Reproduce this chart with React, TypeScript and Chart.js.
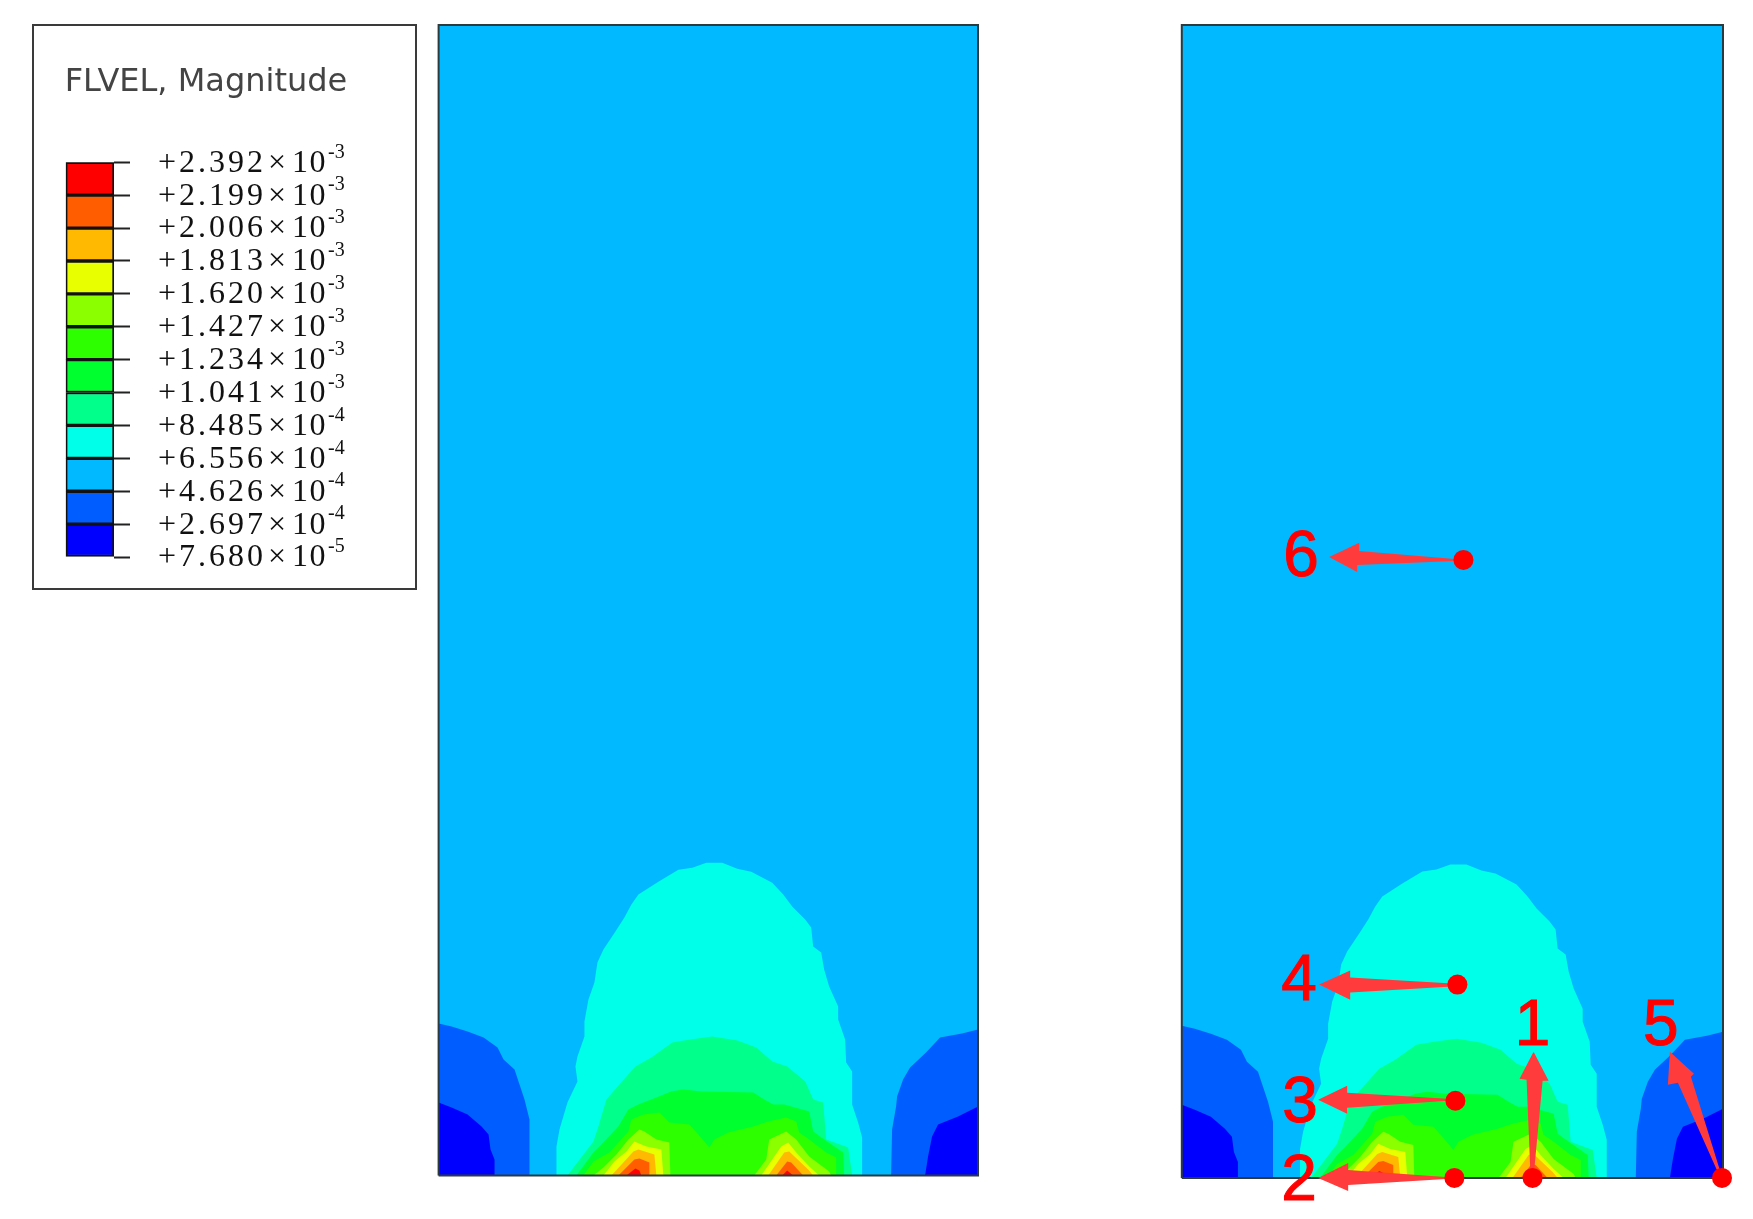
import React, { useEffect, useRef } from "react";
import { Chart, registerables } from "chart.js";

Chart.register(...registerables);

type Pair = [number, number];

// Legend
const legendTitle = "FLVEL, Magnitude";
const legendMantissas = ["+7.680", "+2.697", "+4.626", "+6.556", "+8.485", "+1.041", "+1.234", "+1.427", "+1.620", "+1.813", "+2.006", "+2.199", "+2.392"];
const legendExponents = ["-5", "-4", "-4", "-4", "-4", "-3", "-3", "-3", "-3", "-3", "-3", "-3", "-3"];
const bandColors = ["#0000FF", "#005DFF", "#00B9FF", "#00FFE8", "#00FF8B", "#00FF2E", "#2EFF00", "#8BFF00", "#E8FF00", "#FFB900", "#FF5D00", "#FF0000"];

// Contour outlines in panel units (x 0..540 across, y 0..1151 up from the base)
const domain: Pair[] = [[0, 0], [0, 1151], [540, 1151], [540, 0]];
const blueLeft: Pair[] = [[0, 152], [13, 149], [29, 144], [45, 138], [59, 128], [65, 116], [76, 106], [81, 91], [86, 76], [91, 56], [91, 0], [0, 0]];
const darkLeft: Pair[] = [[0, 73], [13, 68], [29, 61], [43, 49], [50, 41], [52, 26], [56, 16], [56, 0], [0, 0]];
const blueRight: Pair[] = [[540, 146], [524, 142], [502, 138], [488, 123], [472, 108], [465, 96], [459, 79], [458, 69], [454, 46], [453, 0], [540, 0]];
const darkRight: Pair[] = [[540, 69], [520, 59], [500, 51], [494, 39], [490, 19], [487, 0], [540, 0]];
const cyanDome: Pair[] = [[118, 0], [118, 29], [121, 46], [129, 73], [139, 94], [137, 109], [139, 119], [146, 139], [146, 154], [150, 176], [156, 193], [159, 213], [165, 226], [177, 244], [186, 258], [193, 271], [200, 281], [220, 294], [240, 306], [254, 308], [268, 313], [284, 313], [299, 307], [313, 304], [334, 293], [345, 281], [354, 269], [367, 256], [373, 248], [375, 229], [383, 223], [386, 206], [391, 189], [400, 169], [400, 156], [407, 136], [408, 113], [414, 104], [414, 71], [420, 53], [424, 38], [424, 0]];
const springDome: Pair[] = [[129, 0], [142, 17], [155, 34], [160, 49], [168, 76], [181, 91], [197, 109], [213, 118], [234, 133], [252, 136], [274, 139], [299, 135], [318, 128], [334, 114], [349, 109], [367, 94], [375, 76], [385, 73], [388, 36], [410, 28], [414, 0]];
const greenDome: Pair[] = [[138, 0], [155, 23], [163, 31], [180, 49], [190, 66], [200, 71], [218, 78], [233, 84], [245, 86], [263, 84], [315, 83], [326, 76], [335, 71], [346, 71], [371, 64], [375, 44], [386, 36], [405, 23], [406, 0]];
const limeDome: Pair[] = [[145, 0], [155, 14], [171, 23], [190, 44], [193, 56], [205, 61], [221, 63], [231, 53], [251, 51], [260, 41], [271, 28], [276, 36], [290, 43], [315, 49], [330, 54], [348, 58], [358, 54], [361, 43], [371, 36], [388, 23], [398, 18], [398, 0]];
const yellowGreenLeft: Pair[] = [[155, 0], [165, 8], [178, 21], [190, 36], [201, 46], [206, 44], [218, 36], [231, 33], [232, 0]];
const yellowGreenRight: Pair[] = [[316, 0], [328, 16], [331, 36], [348, 44], [358, 36], [371, 19], [391, 4], [393, 0]];
const yellowLeft: Pair[] = [[165, 0], [176, 14], [188, 24], [196, 34], [208, 29], [223, 26], [225, 0]];
const yellowRight: Pair[] = [[323, 0], [343, 29], [350, 33], [358, 23], [371, 9], [381, 0]];
const amberLeft: Pair[] = [[173, 0], [185, 13], [195, 24], [200, 26], [216, 21], [218, 0]];
const amberRight: Pair[] = [[330, 0], [346, 23], [351, 24], [370, 6], [375, 0]];
const orangeLeft: Pair[] = [[180, 0], [196, 16], [201, 17], [211, 13], [211, 0]];
const orangeRight: Pair[] = [[338, 0], [349, 14], [353, 13], [365, 0]];
const redLeft: Pair[] = [[188, 0], [197, 7], [201, 5], [203, 0]];
const redRight: Pair[] = [[344, 0], [349, 5], [355, 0]];

const contourLayers: { color: string; outline: Pair[] }[] = [
  { color: "#00B9FF", outline: domain },
  { color: "#005DFF", outline: blueLeft },
  { color: "#005DFF", outline: blueRight },
  { color: "#0000FF", outline: darkLeft },
  { color: "#0000FF", outline: darkRight },
  { color: "#00FFE8", outline: cyanDome },
  { color: "#00FF8B", outline: springDome },
  { color: "#00FF2E", outline: greenDome },
  { color: "#2EFF00", outline: limeDome },
  { color: "#8BFF00", outline: yellowGreenLeft },
  { color: "#8BFF00", outline: yellowGreenRight },
  { color: "#E8FF00", outline: yellowLeft },
  { color: "#E8FF00", outline: yellowRight },
  { color: "#FFB900", outline: amberLeft },
  { color: "#FFB900", outline: amberRight },
  { color: "#FF5D00", outline: orangeLeft },
  { color: "#FF5D00", outline: orangeRight },
  { color: "#FF0000", outline: redLeft },
  { color: "#FF0000", outline: redRight },
];

// Numbered sampling points on the right panel
const pointLabels = ["1", "2", "3", "4", "5", "6"];
const pointPositions: Pair[] = [[350, 0], [272, 0], [273, 77], [275, 193], [539, 0], [281, 617]];
const labelPositions: Pair[] = [[350, 156], [117, 1], [118, 79], [117, 201], [478, 156], [119, 624]];
const arrow1: Pair[] = [[351, 126], [337, 99], [344, 98], [348, 1], [351, 1], [360, 97], [366, 97]];
const arrow2: Pair[] = [[136, 0], [166, 15], [166, 8], [263, 1], [263, -1], [166, -7], [166, -13]];
const arrow3: Pair[] = [[136, 78], [165, 92], [165, 85], [265, 79], [265, 77], [165, 70], [165, 64]];
const arrow4: Pair[] = [[137, 193], [168, 207], [168, 200], [270, 194], [270, 191], [168, 185], [168, 178]];
const arrow5: Pair[] = [[487, 126], [485, 93], [495, 95], [537, 1], [539, 1], [508, 101], [511, 104]];
const arrow6: Pair[] = [[147, 620], [177, 634], [177, 626], [272, 618], [272, 616], [175, 612], [175, 605]];
const arrows = [arrow1, arrow2, arrow3, arrow4, arrow5, arrow6];

const toXY = (list: Pair[]) => list.map(([x, y]) => ({ x, y }));

function contourDatasets(extra: any[] = []) {
  const layers: any[] = contourLayers.map((l) => ({
    type: "scatter",
    data: toXY(l.outline),
    showLine: true,
    fill: "shape",
    backgroundColor: l.color,
    borderWidth: 0,
    pointRadius: 0,
  }));
  const frame = {
    type: "scatter",
    data: toXY([...domain, domain[0]]),
    showLine: true,
    fill: false,
    borderColor: "#2C3A3E",
    borderWidth: 2,
    pointRadius: 0,
    clip: false,
  };
  const all = [...layers, frame, ...extra];
  return all.map((d, i) => ({ ...d, order: all.length - i }));
}

function panelOptions(minY: number, maxY: number, padding: any): any {
  return {
    animation: false,
    responsive: false,
    layout: { padding, autoPadding: false },
    plugins: { legend: { display: false }, tooltip: { enabled: false } },
    scales: {
      x: { type: "linear", min: 0, max: 540, display: false },
      y: { type: "linear", min: minY, max: maxY, display: false },
    },
  };
}

const pointLabelPlugin = {
  id: "pointLabels",
  afterDatasetsDraw(chart: any) {
    const { ctx, scales } = chart;
    ctx.save();
    ctx.fillStyle = "#FF0000";
    ctx.strokeStyle = "#FF0000";
    ctx.lineWidth = 1;
    ctx.font = '64px "Liberation Sans"';
    ctx.textAlign = "center";
    ctx.textBaseline = "alphabetic";
    pointLabels.forEach((t, i) => {
      const [x, y] = labelPositions[i];
      const px = scales.x.getPixelForValue(x);
      const py = scales.y.getPixelForValue(y) + 23;
      ctx.fillText(t, px, py);
      ctx.strokeText(t, px, py);
    });
    ctx.restore();
  },
};

const legendTextPlugin = {
  id: "legendText",
  afterDraw(chart: any) {
    const { ctx, scales } = chart;
    const yScale = scales.y;
    const base = chart.chartArea.right + 44;
    ctx.save();
    ctx.fillStyle = "#444444";
    ctx.font = '32px "DejaVu Sans"';
    ctx.textBaseline = "alphabetic";
    ctx.textAlign = "left";
    ctx.fillText(legendTitle, chart.chartArea.left - 1, 67);
    ctx.fillStyle = "#111111";
    ctx.textBaseline = "middle";
    legendMantissas.forEach((m, i) => {
      const y = yScale.getPixelForValue(i) + 1;
      ctx.font = '32px "Liberation Serif"';
      (ctx as any).letterSpacing = "3px";
      ctx.fillText(m, base, y);
      (ctx as any).letterSpacing = "1.5px";
      ctx.fillText("×", base + 110, y);
      ctx.fillText("10", base + 134, y);
      (ctx as any).letterSpacing = "0px";
      ctx.font = '20px "Liberation Serif"';
      ctx.fillText(legendExponents[i], base + 170, y - 11);
    });
    ctx.restore();
  },
};

export default function App() {
  const legendRef = useRef<HTMLCanvasElement>(null);
  const leftRef = useRef<HTMLCanvasElement>(null);
  const rightRef = useRef<HTMLCanvasElement>(null);

  useEffect(() => {
    const legendChart = new Chart(legendRef.current!, {
      type: "bar",
      data: {
        labels: [legendTitle],
        datasets: bandColors.map((c) => ({
          data: [1],
          backgroundColor: c,
          borderColor: "#111111",
          borderWidth: 2,
          borderSkipped: false,
          barPercentage: 1,
          categoryPercentage: 1,
        })),
      },
      options: {
        animation: false,
        responsive: false,
        layout: { padding: { left: 33.7, right: 287, top: 138.3, bottom: 33 } },
        plugins: { legend: { display: false }, tooltip: { enabled: false } },
        scales: {
          x: { stacked: true, display: false },
          y: {
            stacked: true,
            position: "right",
            min: 0,
            max: 12,
            ticks: { display: false, stepSize: 1 },
            border: { display: false },
            grid: { drawOnChartArea: false, drawTicks: true, tickLength: 16, tickColor: "#222222", tickWidth: 2 },
          },
        },
      } as any,
      plugins: [legendTextPlugin],
    });

    const leftChart = new Chart(leftRef.current!, {
      type: "scatter",
      data: { datasets: contourDatasets() as any },
      options: panelOptions(0, 1151, { left: 8.6, right: 12, top: 10, bottom: 9.5 }),
    });

    const arrowSets = arrows.map((a) => ({
      type: "scatter",
      data: toXY(a),
      showLine: true,
      fill: "shape",
      backgroundColor: "#FF3B3B",
      borderWidth: 0,
      pointRadius: 0,
      clip: false,
    }));
    const dots = {
      type: "scatter",
      data: toXY(pointPositions),
      showLine: false,
      backgroundColor: "#FF0000",
      borderWidth: 0,
      pointRadius: 10,
      clip: false,
    };
    const rightChart = new Chart(rightRef.current!, {
      type: "scatter",
      data: { datasets: contourDatasets([...arrowSets, dots]) as any },
      options: panelOptions(-41, 1151, { left: 81.8, right: 20, top: 10, bottom: 0 }),
      plugins: [pointLabelPlugin],
    });

    return () => {
      legendChart.destroy();
      leftChart.destroy();
      rightChart.destroy();
    };
  }, []);

  return (
    <div style={{ position: "absolute", left: 0, top: 0, width: 1753, height: 1219, overflow: "hidden", background: "#FFFFFF" }}>
      <div style={{ position: "absolute", left: 32, top: 24, width: 385, height: 566, boxSizing: "border-box", border: "2px solid #3A3A3A" }} />
      <canvas ref={legendRef} width={385} height={566} style={{ position: "absolute", left: 32, top: 24 }} />
      <canvas ref={leftRef} width={560} height={1170} style={{ position: "absolute", left: 430, top: 15 }} />
      <canvas ref={rightRef} width={643} height={1204} style={{ position: "absolute", left: 1100, top: 15 }} />
    </div>
  );
}
